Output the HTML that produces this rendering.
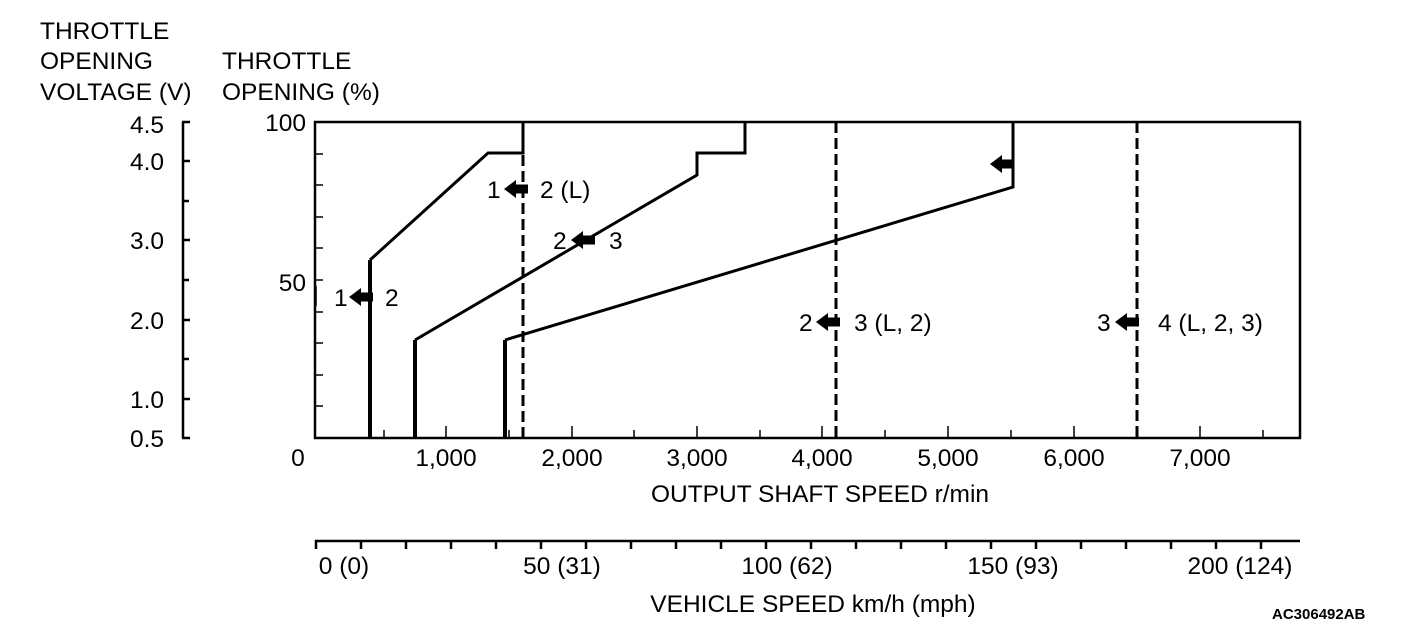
<!DOCTYPE html>
<html><head><meta charset="utf-8"><style>
html,body{margin:0;padding:0;background:#fff;}
svg{display:block;}
text{font-family:"Liberation Sans",sans-serif;font-size:24.5px;fill:#000;}
</style></head><body>
<svg width="1408" height="640" viewBox="0 0 1408 640" xmlns="http://www.w3.org/2000/svg">
<defs>
<g id="arr"><polygon points="0,0 12,-9 12,-4.5 24,-4.5 24,4.5 12,4.5 12,9"/></g>
</defs>
<g>
<text x="40" y="39">THROTTLE</text>
<text x="40" y="69">OPENING</text>
<text x="40" y="100">VOLTAGE (V)</text>
<text x="222" y="69">THROTTLE</text>
<text x="222" y="100">OPENING (%)</text>
</g>
<g stroke="#000" stroke-width="2.5" fill="none">
<path d="M183,122 V438"/>
<path d="M182,122 H190 M182,161 H190 M182,201 H189 M182,240 H190 M182,280 H189 M182,320 H190 M182,359 H189 M182,399 H190 M182,438 H190"/>
</g>
<g text-anchor="end">
<text x="164" y="133">4.5</text>
<text x="164" y="170">4.0</text>
<text x="164" y="249">3.0</text>
<text x="164" y="329">2.0</text>
<text x="164" y="408">1.0</text>
<text x="164" y="447">0.5</text>
<text x="306" y="131">100</text>
<text x="306" y="291">50</text>
</g>
<rect x="315" y="122" width="985" height="316" fill="none" stroke="#000" stroke-width="2.5"/>
<g stroke="#000" stroke-width="1.5">
<path d="M315,154 H323 M315,185 H323 M315,217 H323 M315,248 H323 M315,280 H323 M315,312 H323 M315,343 H323 M315,375 H323 M315,406 H323"/>
<path d="M316,286 V306"/>
<path d="M384,438 V430 M446,438 V426 M509,438 V430 M572,438 V426 M634,438 V430 M697,438 V426 M760,438 V430 M822,438 V426 M885,438 V430 M948,438 V426 M1011,438 V430 M1074,438 V426 M1137,438 V430 M1200,438 V426 M1263,438 V430"/>
</g>
<g stroke="#000" stroke-width="3" stroke-dasharray="11,5" fill="none">
<path d="M523,155 V438"/>
<path d="M836,122 V438"/>
<path d="M1137,122 V438"/>
</g>
<g stroke="#000" fill="none">
<path d="M370,438 V260" stroke-width="4"/>
<path d="M370,260 L488,153 H523 V122" stroke-width="3"/>
<path d="M415,438 V340" stroke-width="4"/>
<path d="M415,340 L697,175 V153 H745 V122" stroke-width="3"/>
<path d="M505,438 V340" stroke-width="4"/>
<path d="M505,340 L1013,187 V122" stroke-width="3"/>
</g>
<use href="#arr" x="349" y="297"/>
<text x="334" y="306">1</text><text x="385" y="306">2</text>
<use href="#arr" x="504" y="189"/>
<text x="487" y="198">1</text><text x="540" y="198">2 (L)</text>
<use href="#arr" x="571" y="240"/>
<text x="553" y="249">2</text><text x="609" y="249">3</text>
<use href="#arr" x="990" y="164"/>
<use href="#arr" x="816" y="322"/>
<text x="799" y="331">2</text><text x="854" y="331">3 (L, 2)</text>
<use href="#arr" x="1115" y="322"/>
<text x="1097" y="331">3</text><text x="1158" y="331">4 (L, 2, 3)</text>
<g text-anchor="middle">
<text x="298" y="466">0</text>
<text x="446" y="466">1,000</text>
<text x="572" y="466">2,000</text>
<text x="697" y="466">3,000</text>
<text x="822" y="466">4,000</text>
<text x="948" y="466">5,000</text>
<text x="1074" y="466">6,000</text>
<text x="1200" y="466">7,000</text>
<text x="820" y="502">OUTPUT SHAFT SPEED r/min</text>
</g>
<g stroke="#000" stroke-width="2.5" fill="none">
<path d="M315,541 H1300"/>
<path d="M316,540 V549 M361,540 V549 M406,540 V549 M451,540 V549 M496,540 V549 M541,540 V549 M586,540 V549 M631,540 V549 M676,540 V549 M721,540 V549 M766,540 V549 M811,540 V549 M856,540 V549 M901,540 V549 M946,540 V549 M991,540 V549 M1036,540 V549 M1081,540 V549 M1126,540 V549 M1171,540 V549 M1216,540 V549 M1261,540 V549"/>
</g>
<g text-anchor="middle">
<text x="344" y="574">0 (0)</text>
<text x="562" y="574">50 (31)</text>
<text x="787" y="574">100 (62)</text>
<text x="1013" y="574">150 (93)</text>
<text x="1240" y="574">200 (124)</text>
<text x="813" y="612">VEHICLE SPEED km/h (mph)</text>
</g>
<text x="1272" y="619" style="font-size:15px;font-weight:bold">AC306492AB</text>
</svg>
</body></html>
